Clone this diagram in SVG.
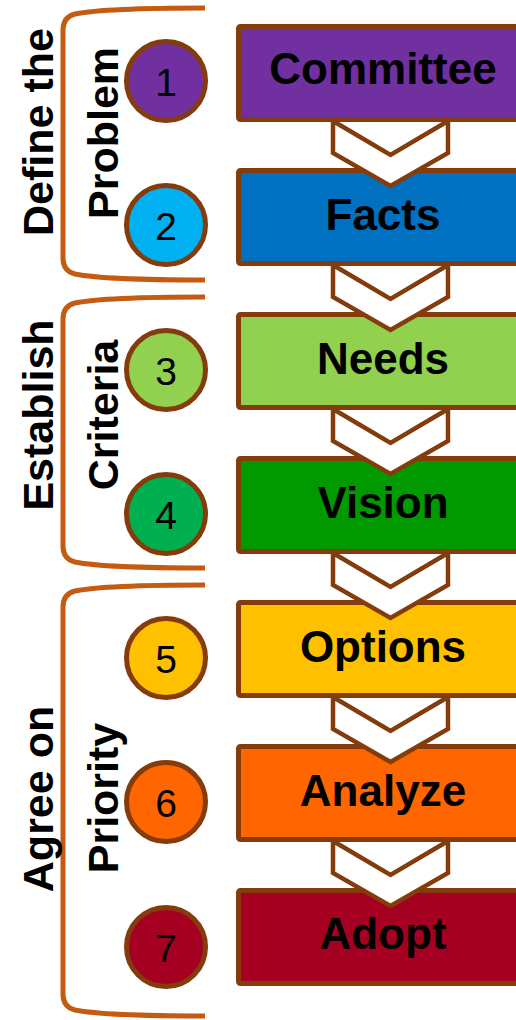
<svg xmlns="http://www.w3.org/2000/svg" width="516" height="1020" viewBox="0 0 516 1020">
<style>
.box{stroke:#843C0C;stroke-width:5}
.lbl{font-family:"Liberation Sans",Arial,sans-serif;font-weight:bold;font-size:44px;fill:#000;text-anchor:middle}
.circ{stroke:#843C0C;stroke-width:5}
.num{font-family:"Liberation Sans",Arial,sans-serif;font-size:39px;fill:#000;text-anchor:middle}
.chev{fill:#fff;stroke:#843C0C;stroke-width:4.5;stroke-linejoin:miter}
.brk{fill:none;stroke:#C55A11;stroke-width:5;stroke-linecap:butt}
.grp{font-family:"Liberation Sans",Arial,sans-serif;font-weight:bold;font-size:43px;fill:#000;text-anchor:middle}
</style>
<rect width="516" height="1020" fill="#fff"/>
<g id="brackets">
<g id="bracket-define">
<path class="brk" d="M205,8 C150,8 95,10 75,14 Q63,17 63,30 L63,258 Q63,271 75,274 C95,278 150,280 205,280"/>
<text class="grp" transform="translate(53,132) rotate(-90)">Define the</text>
<text class="grp" transform="translate(118,133) rotate(-90)">Problem</text>
</g>
<g id="bracket-criteria">
<path class="brk" d="M205,297 C150,297 95,299 75,303 Q63,306 63,319 L63,546 Q63,559 75,562 C95,566 150,568 205,568"/>
<text class="grp" transform="translate(53,415) rotate(-90)">Establish</text>
<text class="grp" transform="translate(118,415) rotate(-90)">Criteria</text>
</g>
<g id="bracket-priority">
<path class="brk" d="M205,585 C150,585 95,587 75,591 Q63,594 63,607 L63,994 Q63,1007 75,1010 C95,1014 150,1016 205,1016"/>
<text class="grp" transform="translate(53,799) rotate(-90)">Agree on</text>
<text class="grp" transform="translate(118,798) rotate(-90)">Priority</text>
</g>
</g>
<g id="node1"><rect class="box" x="238.5" y="26.5" width="300" height="93" rx="2" fill="#7030A0"/><text class="lbl" x="383" y="84">Committee</text></g>
<g id="node2"><rect class="box" x="238.5" y="170.5" width="300" height="93" rx="2" fill="#0070C0"/><text class="lbl" x="383" y="230">Facts</text></g>
<g id="node3"><rect class="box" x="238.5" y="314.5" width="300" height="93" rx="2" fill="#92D050"/><text class="lbl" x="383" y="374">Needs</text></g>
<g id="node4"><rect class="box" x="238.5" y="458.5" width="300" height="93" rx="2" fill="#009A00"/><text class="lbl" x="383" y="518">Vision</text></g>
<g id="node5"><rect class="box" x="238.5" y="602.5" width="300" height="93" rx="2" fill="#FFC000"/><text class="lbl" x="383" y="662">Options</text></g>
<g id="node6"><rect class="box" x="238.5" y="746.5" width="300" height="93" rx="2" fill="#FF6600"/><text class="lbl" x="383" y="806">Analyze</text></g>
<g id="node7"><rect class="box" x="238.5" y="890.5" width="300" height="93" rx="2" fill="#A50021"/><text class="lbl" x="383" y="949">Adopt</text></g>
<g id="connectors">
<polygon class="chev" points="333,121 390.5,155 448,121 448,153 390.5,186 333,153"/>
<polygon class="chev" points="333,265 390.5,299 448,265 448,297 390.5,330 333,297"/>
<polygon class="chev" points="333,409 390.5,443 448,409 448,441 390.5,474 333,441"/>
<polygon class="chev" points="333,553 390.5,587 448,553 448,585 390.5,618 333,585"/>
<polygon class="chev" points="333,697 390.5,731 448,697 448,729 390.5,762 333,729"/>
<polygon class="chev" points="333,841 390.5,875 448,841 448,873 390.5,906 333,873"/>
</g>
<g id="step1"><circle class="circ" cx="166" cy="81" r="39.5" fill="#7030A0"/><text class="num" x="166" y="96">1</text></g>
<g id="step2"><circle class="circ" cx="166" cy="225" r="39.5" fill="#00B0F0"/><text class="num" x="166" y="240">2</text></g>
<g id="step3"><circle class="circ" cx="166" cy="370" r="39.5" fill="#92D050"/><text class="num" x="166" y="385">3</text></g>
<g id="step4"><circle class="circ" cx="166" cy="514" r="39.5" fill="#00B050"/><text class="num" x="166" y="529">4</text></g>
<g id="step5"><circle class="circ" cx="166" cy="658" r="39.5" fill="#FFC000"/><text class="num" x="166" y="673">5</text></g>
<g id="step6"><circle class="circ" cx="166" cy="802" r="39.5" fill="#FF6600"/><text class="num" x="166" y="817">6</text></g>
<g id="step7"><circle class="circ" cx="166" cy="947" r="39.5" fill="#A50021"/><text class="num" x="166" y="962">7</text></g>
</svg>
